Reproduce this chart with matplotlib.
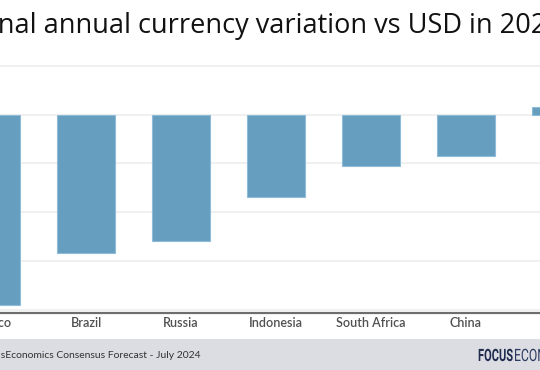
import matplotlib.pyplot as plt
from matplotlib.patches import Rectangle, PathPatch
from matplotlib.textpath import TextPath
from matplotlib.font_manager import FontProperties
from matplotlib.transforms import Affine2D

countries = ["Mexico", "Brazil", "Russia", "Indonesia", "South Africa", "China", "India"]
variation = [-19.5, -14.2, -13.0, -8.5, -5.3, -4.3, 0.8]
yticks = [5, 0, -5, -10, -15, -20]

title = "Nominal annual currency variation vs USD in 2024"
source = "Source: FocusEconomics Consensus Forecast - July 2024"

W, H = 540, 370
fig = plt.figure(figsize=(W / 100, H / 100), dpi=100)
fig.patch.set_facecolor("white")

# chart is cropped: axes runs past both edges of the canvas
left_px, right_px = -56.5, 608.5
top_px, bottom_px = 56.0, 313.0
ax = fig.add_axes([left_px / W, (H - bottom_px) / H,
                   (right_px - left_px) / W, (bottom_px - top_px) / H])

ax.bar(range(len(countries)), variation, width=0.62, color="#669ec0",
       edgecolor="#8fbcd8", linewidth=0.8, zorder=3)
ax.set_xlim(-0.5, len(countries) - 0.5)
ax.set_ylim(-20.35, 6)
ax.set_yticks(yticks)
ax.yaxis.grid(True, color="#ececec", linewidth=1.1, zorder=0)
ax.set_xticks(range(len(countries)))
ax.set_xticklabels(countries, fontsize=9, color="#505050", family="Lato",
                   weight="semibold")
ax.tick_params(axis="x", length=0, pad=3)
ax.tick_params(axis="y", length=0, labelleft=False)
for s in ["top", "left", "right"]:
    ax.spines[s].set_visible(False)
ax.spines["bottom"].set_color("#6e6e6e")
ax.spines["bottom"].set_linewidth(1.6)

fig.text(-71 / W, 1 - 33 / H, title, fontsize=19.5, color="#111111",
         family="Open Sans", ha="left", va="baseline")

# footer band
fig.patches.append(Rectangle((0, 0), 1, 31 / H, transform=fig.transFigure,
                             facecolor="#dcdde2", edgecolor="none", zorder=0))
fig.text(-58 / W, 12 / H, source, fontsize=7.5, color="#333333",
         family="Lato", ha="left", va="baseline")

# condensed logo, drawn as squeezed text paths (pixel coords)
bold_tp = TextPath((0, 0), "FOCUS", size=17,
                   prop=FontProperties(family="Roboto", weight="bold"))
ext = bold_tp.get_extents()
sx = 34 / ext.width
fig.add_artist(PathPatch(bold_tp, facecolor="#1e2b4d", edgecolor="none",
                         transform=Affine2D().scale(sx, 1).translate(478, 9)))
light_tp = TextPath((0, 0), "ECONOMICS", size=17,
                    prop=FontProperties(family="Roboto", weight="normal"))
fig.add_artist(PathPatch(light_tp, facecolor="#2a3a60", edgecolor="none",
                         transform=Affine2D().scale(sx * 1.1, 1).translate(514, 9)))

fig.savefig("out.png", dpi=100)
